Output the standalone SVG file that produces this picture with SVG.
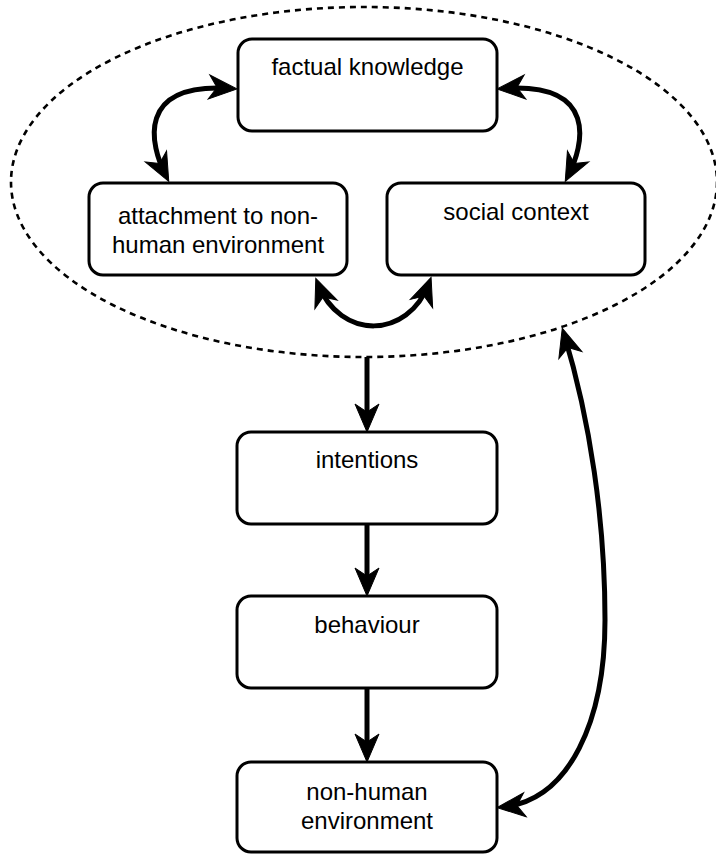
<svg xmlns="http://www.w3.org/2000/svg" width="716" height="856" viewBox="0 0 716 856">
<style>
.box{fill:#fff;stroke:#000;stroke-width:3}
.lbl{font-family:"Liberation Sans",Arial,sans-serif;font-size:24px;fill:#000;text-anchor:middle}
.conn{fill:none;stroke:#000;stroke-width:5}
.ell{fill:none;stroke:#000;stroke-width:2.6;stroke-dasharray:6 5}
</style>
<defs>
<marker id="ah" markerUnits="userSpaceOnUse" markerWidth="34" markerHeight="34" refX="22" refY="12" orient="auto-start-reverse" overflow="visible">
<path d="M0,0 L28,12 L0,24 L8,12 Z" fill="#000" stroke="#000" stroke-width="1" stroke-linejoin="miter"/>
</marker>
</defs>
<rect width="716" height="856" fill="#fff"/>
<g id="group-ellipse">
<ellipse class="ell" cx="364" cy="182" rx="353" ry="175"/>
</g>
<g id="connectors">
<path class="conn" d="M231 88.5 C135 82, 150 145, 166 176" marker-start="url(#ah)" marker-end="url(#ah)"/>
<path class="conn" d="M503 88.5 C599 82, 584 145, 568 176" marker-start="url(#ah)" marker-end="url(#ah)"/>
<path class="conn" d="M318 284 C340 340, 408 340, 429 283" marker-start="url(#ah)" marker-end="url(#ah)"/>
<path class="conn" d="M367 357 L367 426" marker-end="url(#ah)"/>
<path class="conn" d="M367 524 L367 590" marker-end="url(#ah)"/>
<path class="conn" d="M367 688 L367 756" marker-end="url(#ah)"/>
<path class="conn" d="M564 334 C590 420, 605 520, 605 620 C605 720, 570 800, 503 807" marker-start="url(#ah)" marker-end="url(#ah)"/>
</g>
<g id="factual-knowledge">
<rect class="box" x="238" y="39" width="259" height="92" rx="14"/>
<text class="lbl" x="367.5" y="75">factual knowledge</text>
</g>
<g id="attachment">
<rect class="box" x="89" y="183" width="258" height="92" rx="14"/>
<text class="lbl" x="218" y="224">attachment to non-</text>
<text class="lbl" x="218" y="253">human environment</text>
</g>
<g id="social-context">
<rect class="box" x="387" y="183" width="258" height="92" rx="14"/>
<text class="lbl" x="516" y="220">social context</text>
</g>
<g id="intentions">
<rect class="box" x="237" y="432" width="260" height="92" rx="14"/>
<text class="lbl" x="367" y="468">intentions</text>
</g>
<g id="behaviour">
<rect class="box" x="237" y="596" width="260" height="92" rx="14"/>
<text class="lbl" x="367" y="633">behaviour</text>
</g>
<g id="non-human-environment">
<rect class="box" x="237" y="762" width="260" height="90" rx="14"/>
<text class="lbl" x="367" y="800">non-human</text>
<text class="lbl" x="367" y="829">environment</text>
</g>
</svg>
